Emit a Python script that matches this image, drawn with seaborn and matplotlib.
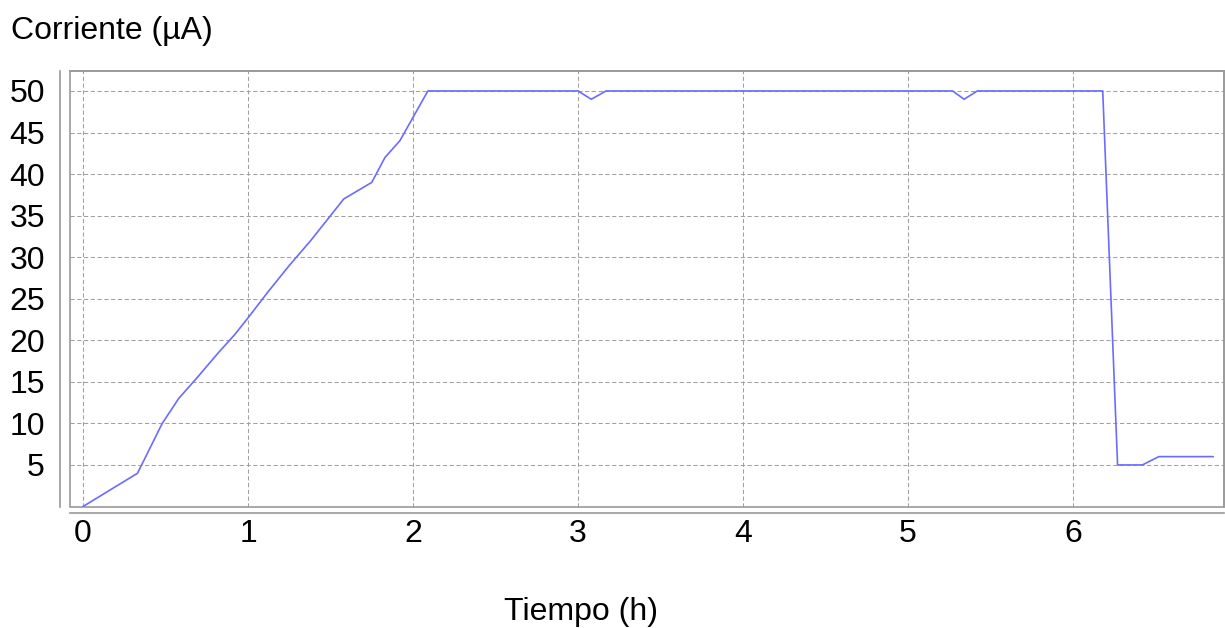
import matplotlib
matplotlib.use("Agg")
import matplotlib.pyplot as plt
import seaborn as sns
import pandas as pd
from matplotlib.patches import Rectangle

# Data
tiempo = [0, 0.33, 0.48, 0.58, 0.70, 0.82, 0.92, 1.0, 1.12, 1.25, 1.38, 1.50, 1.58,
          1.75, 1.83, 1.92, 2.09, 3.0, 3.08, 3.17, 5.27, 5.34, 5.42, 6.18, 6.27,
          6.42, 6.52, 6.85]
corriente = [0, 4, 10, 13, 15.7, 18.5, 20.7, 22.7, 25.8, 29, 32, 35, 37,
             39, 42, 44, 50, 50, 49, 50, 50, 49, 50, 50, 5,
             5, 6, 6]
x_ticks = [0, 1, 2, 3, 4, 5, 6]
y_ticks = [5, 10, 15, 20, 25, 30, 35, 40, 45, 50]

sns.set_style("white")
plt.rcParams['font.family'] = ['Liberation Sans', 'DejaVu Sans']
plt.rcParams['text.color'] = 'black'

FS = 23
W, H = 1225, 628
fig = plt.figure(figsize=(W / 100, H / 100), dpi=100)
left, right, top, bottom = 70, 1224, 71, 506.5
ax = fig.add_axes([left / W, 1 - bottom / H, (right - left) / W, (bottom - top) / H])

df = pd.DataFrame({"t": tiempo, "c": corriente})
sns.lineplot(data=df, x="t", y="c", ax=ax, color="#6b6bff", linewidth=1.2, zorder=3)

ax.set_xlim(-0.079, 6.915)
ax.set_ylim(0, 52.4)
ax.set_xticks(x_ticks)
ax.set_yticks(y_ticks)
ax.set_xticklabels([str(v) for v in x_ticks])
ax.set_yticklabels([str(v) for v in y_ticks])
ax.set_xlabel("")
ax.set_ylabel("")

ax.grid(True, color="#a0a0a0", linestyle=(0, (4, 2.5)), linewidth=0.75)
ax.set_axisbelow(True)

gray = "#9a9a9a"
for s in ["left", "bottom"]:
    ax.spines[s].set_position(("outward", 5 if s == "bottom" else 7))
    ax.spines[s].set_color(gray)
    ax.spines[s].set_linewidth(1.2)
for s in ["top", "right"]:
    ax.spines[s].set_color(gray)
    ax.spines[s].set_linewidth(1.2)
ax.add_patch(Rectangle((0, 0), 1, 1, transform=ax.transAxes, fill=False,
                       edgecolor=gray, linewidth=1.2, zorder=2, clip_on=False))

ax.tick_params(axis="both", which="both", length=3, width=1, color=gray,
               labelcolor="black", labelsize=FS, direction="out")
ax.tick_params(axis="y", pad=8)
ax.tick_params(axis="x", pad=1)

fig.text(11 / W, 1 - 31 / H, "Corriente (µA)", fontsize=FS, ha="left", va="center",
         color="black")
fig.text(581 / W, 1 - 612 / H, "Tiempo (h)", fontsize=FS, ha="center", va="center",
         color="black")

fig.savefig("out.png", dpi=100)
